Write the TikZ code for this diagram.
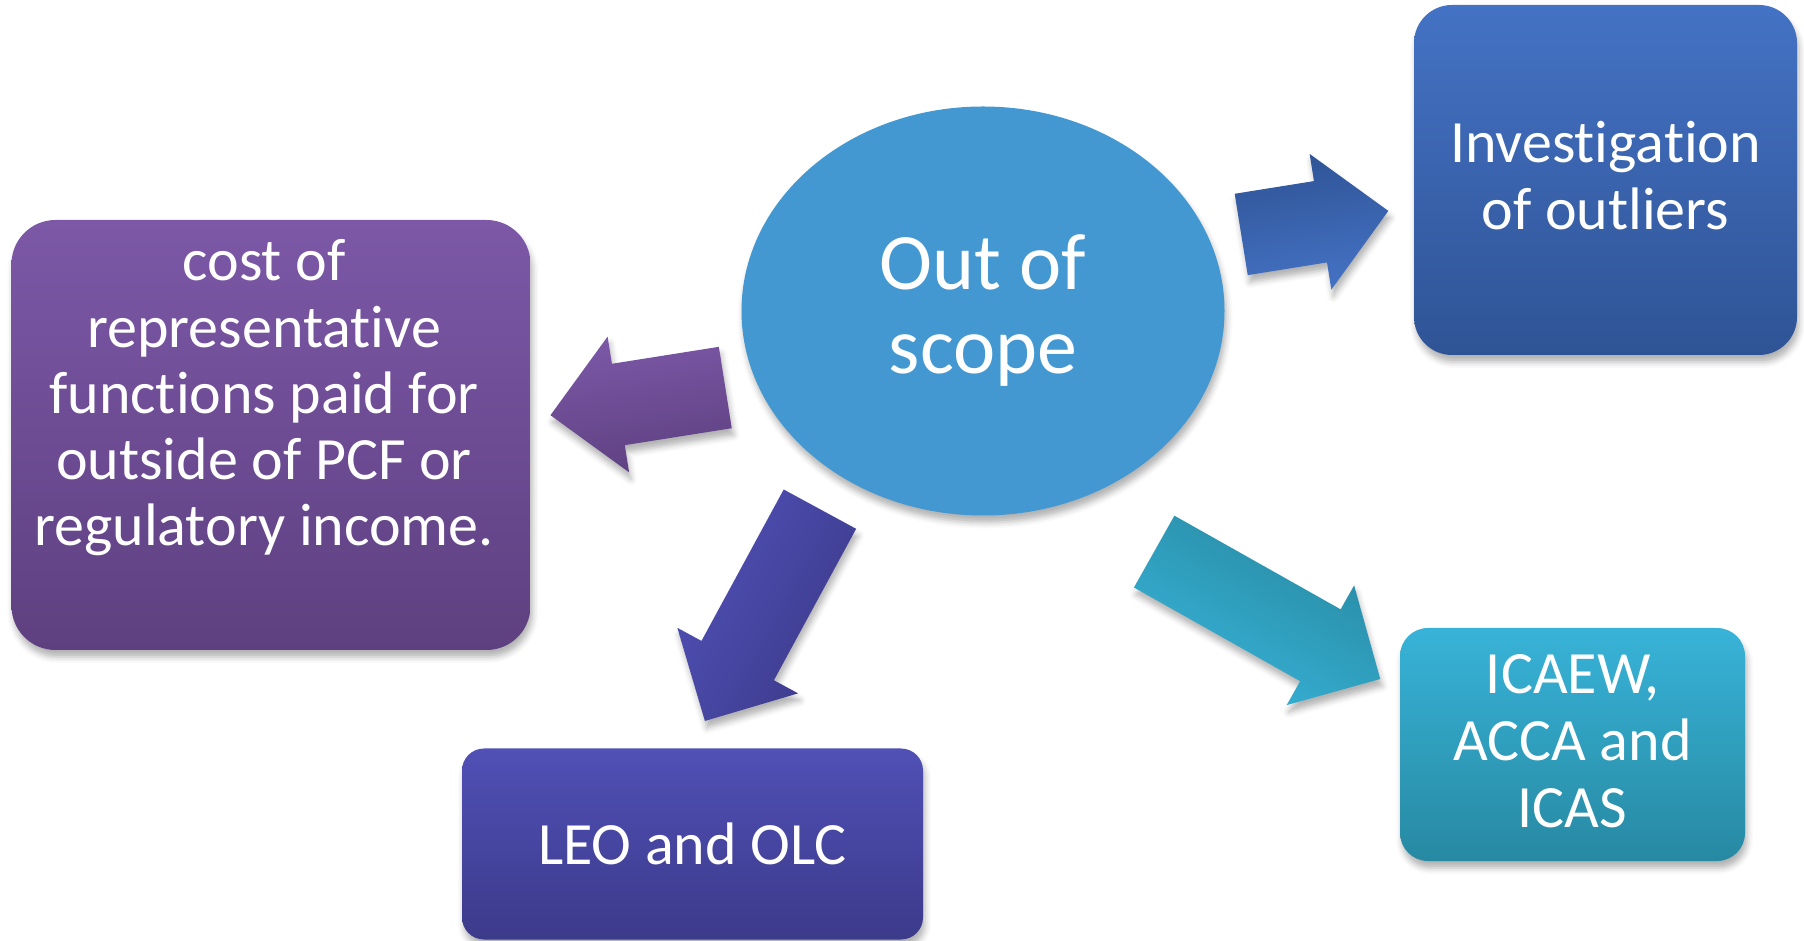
\documentclass[tikz,border=0pt]{standalone}
\usepackage{fontspec}
\setmainfont{Carlito}[Ligatures={NoCommon,NoRare,NoContextual}]
\usetikzlibrary{positioning}
\usetikzlibrary{shapes,arrows}
\usetikzlibrary{shadows.blur}

\definecolor{scopeblue}{HTML}{4398D2}
\definecolor{costtop}{HTML}{7C58A7}
\definecolor{costbot}{HTML}{5E4080}
\definecolor{outtop}{HTML}{4472C4}
\definecolor{outbot}{HTML}{2F5496}
\definecolor{leotop}{HTML}{5050B6}
\definecolor{leobot}{HTML}{3C3A8A}
\definecolor{icatop}{HTML}{38B3D8}
\definecolor{icabot}{HTML}{2789A2}

\begin{document}
\begin{tikzpicture}[x=1pt, y=1pt,
		softshadow/.style = {
			blur shadow={shadow xshift=2pt, shadow yshift=-7pt, shadow blur radius=6pt, shadow opacity=30}
		},
		box/.style = {
			rectangle, rounded corners=#1, inner sep=0pt, softshadow
		},
		boxtext/.style = {
			text=white, align=center, font=\fontsize{60}{67}\selectfont
		},
		blockarrow/.style = {
			single arrow, inner xsep=0pt, inner ysep=41pt,
			single arrow head extend=27.5pt, single arrow tip angle=90,
			anchor=tail, softshadow
		}]
		\useasboundingbox (0,0) rectangle (1804,940);
		% centre
		\node (scope) [ellipse, fill=scopeblue, minimum width=483pt, minimum height=409pt,
			inner sep=0pt, softshadow, text=white, align=center,
			font=\fontsize{80}{84}\selectfont] at (983,629) {Out of\\scope};
		% outer boxes
		\node (costbox) [box=44pt, top color=costtop, bottom color=costbot,
			minimum width=519pt, minimum height=430pt] at (271,505) {};
		\node (costtext) [boxtext, font=\fontsize{60}{66.25}\selectfont] at (264,542) {cost of\\representative\\functions paid for\\outside of PCF or\\regulatory income.};
		\node (outliers) [box=38pt, boxtext, top color=outtop, bottom color=outbot,
			minimum width=383pt, minimum height=350pt, text depth=9pt] at (1605.5,760) {Investigation\\of outliers};
		\node (leo) [box=22pt, boxtext, top color=leotop, bottom color=leobot,
			minimum width=461pt, minimum height=191pt] at (692.5,96) {LEO and OLC};
		\node (icaew) [box=28pt, boxtext, top color=icatop, bottom color=icabot,
			minimum width=345pt, minimum height=233pt, text depth=6pt] at (1572.5,195.5) {ICAEW,\\ACCA and\\ICAS};
		% block arrows
		\node (tocost) [blockarrow, rotate=189, minimum height=177pt,
			top color=costtop, bottom color=costbot, shading angle=9] at (725.5,552.5) {};
		\node (tooutliers) [blockarrow, rotate=9.1, minimum height=149pt,
			top color=outbot, bottom color=outtop, shading angle=9.1] at (1241,705.5) {};
		\node (toleo) [blockarrow, rotate=241.5, minimum height=241pt,
			top color=leotop, bottom color=leobot, shading angle=61.5] at (820,431) {};
		\node (toicaew) [blockarrow, rotate=-29.4, minimum height=259.5pt,
			top color=icabot, bottom color=icatop, shading angle=-29.4] at (1154,388.5) {};
	\end{tikzpicture}
\end{document}
